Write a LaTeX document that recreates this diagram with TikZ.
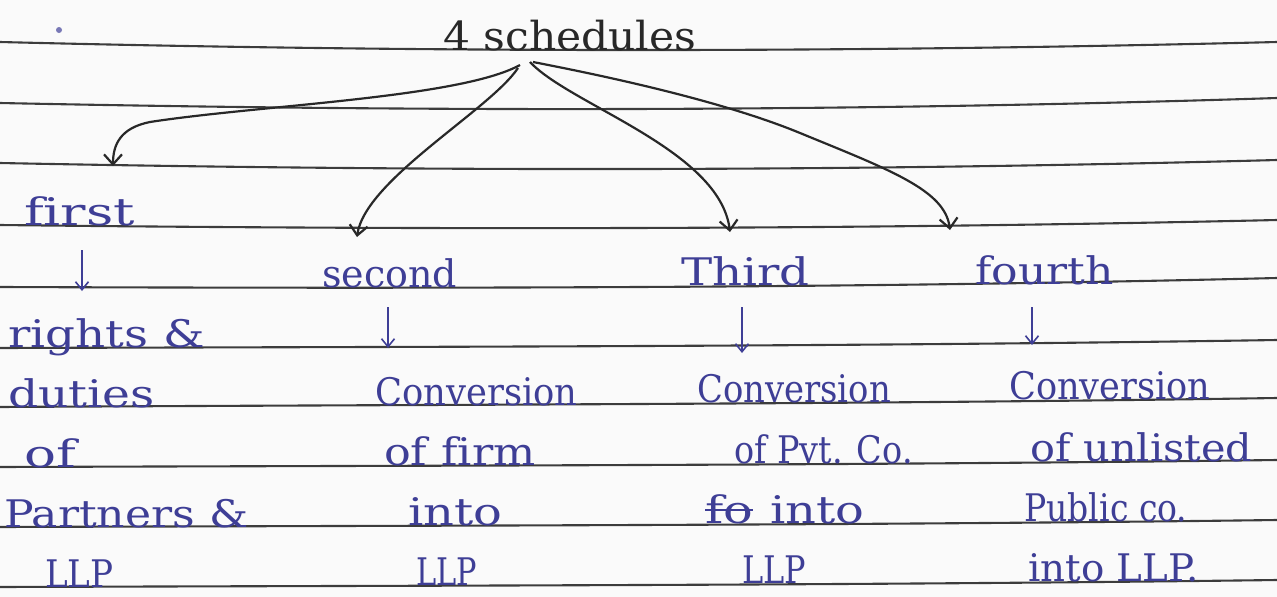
\documentclass[tikz,border=0pt]{standalone}
\usepackage{fontspec}
\setmainfont{DejaVu Serif}[Ligatures=NoCommon]
\usetikzlibrary{arrows.meta}
\definecolor{paper}{RGB}{250,250,250}
\definecolor{rulecol}{RGB}{60,60,60}
\definecolor{pen}{RGB}{62,62,150}
\definecolor{ink}{RGB}{40,40,40}
\newcommand\hw[2]{\scalebox{#1}[1]{#2}}
\begin{document}
\begin{tikzpicture}[x=1pt,y=-1pt,
  txt/.style={anchor=base west, inner sep=0pt, text=pen, font=\fontsize{38}{40}\selectfont},
  ttl/.style={anchor=base west, inner sep=0pt, text=ink, font=\fontsize{40}{42}\selectfont},
  ruling/.style={draw=rulecol, line width=2.1pt},
  curvearr/.style={draw=ink, line width=2.2pt, -{Straight Barb[length=10pt,width=18pt]}},
  downarr/.style={draw=pen, line width=1.6pt, -{Straight Barb[length=8pt,width=13pt]}}]
\useasboundingbox (0,0) rectangle (1277,597);
\fill[paper] (0,0) rectangle (1277,597);
% ruled lines
\foreach \yl/\ym/\yr in {42/52.7/42, 103/111.8/98, 163/171.5/160, 225/229.8/220, 287/288.5/278,
  348/346.7/340, 407/404.5/398, 467/465.5/460, 527/525.5/520, 587/585.5/580}
  \draw[ruling] (0,\yl) .. controls (426,\ym) and (851,\ym) .. (1277,\yr);
% stray pen mark
\fill[pen!70] (59,30) circle (3);
% title
\node[ttl] (title) at (443,50) {\hw{1.06}{4 schedules}};
% column titles
\node[txt] (first) at (24,225) {\hw{1.4}{first}};
\node[txt] (second) at (322,287) {\hw{1.0}{second}};
\node[txt] (third) at (681,285) {\hw{1.23}{Third}};
\node[txt] (fourth) at (975,284) {\hw{1.16}{fourth}};
% column 1
\node[txt] (c1a) at (8,347) {\hw{1.23}{rights \&}};
\node[txt] (c1b) at (8,407) {\hw{1.24}{duties}};
\node[txt] (c1c) at (24,467) {\hw{1.4}{of}};
\node[txt] (c1d) at (4,527) {\hw{1.16}{Partners \&}};
\node[txt] (c1e) at (45,587) {\hw{0.9}{LLP}};
% column 2
\node[txt] (c2a) at (375,405) {\hw{0.93}{Conversion}};
\node[txt] (c2b) at (384,465) {\hw{1.17}{of firm}};
\node[txt] (c2c) at (408,525) {\hw{1.26}{into}};
\node[txt] (c2d) at (416,585) {\hw{0.8}{LLP}};
% column 3
\node[txt] (c3a) at (697,402) {\hw{0.89}{Conversion}};
\node[txt] (c3b) at (734,463) {\hw{0.88}{of Pvt. Co.}};
\node[txt] (c3x) at (705,523) {\hw{1.3}{fo}};
\node[txt] (c3c) at (770,523) {\hw{1.26}{into}};
\draw[pen, line width=1.5pt] (c3x.west |- 0,510) -- (c3x.east |- 0,510);
\node[txt] (c3d) at (742,583) {\hw{0.84}{LLP}};
% column 4
\node[txt] (c4a) at (1009,399) {\hw{0.925}{Conversion}};
\node[txt] (c4b) at (1030,461) {\hw{1.09}{of unlisted}};
\node[txt] (c4c) at (1024,521) {\hw{0.87}{Public co.}};
\node[txt] (c4d) at (1028,581) {\hw{1.02}{into LLP.}};
% curved connectors
\coordinate (o1) at (520,65);  \coordinate (t1) at (113,166);
\coordinate (o2) at (518,68);  \coordinate (t2) at (357,237);
\coordinate (o3) at (530,62);  \coordinate (t3) at (730,232);
\coordinate (o4) at (533,62);  \coordinate (t4) at (950,230);
\draw[curvearr] (o1) .. controls (460,98) and (260,105) .. (150,122) .. controls (120,128) and (113,145) .. (t1);
\draw[curvearr] (o2) .. controls (490,110) and (365,180) .. (t2);
\draw[curvearr] (o3) .. controls (570,105) and (720,150) .. (t3);
\draw[curvearr] (o4) .. controls (600,75) and (720,100) .. (800,133) .. controls (890,170) and (945,190) .. (t4);
% down arrows
\coordinate (d1a) at (82,250);   \coordinate (d1b) at (82,291);
\coordinate (d2a) at (388,307);  \coordinate (d2b) at (388,348);
\coordinate (d3a) at (742,307);  \coordinate (d3b) at (742,353);
\coordinate (d4a) at (1032,307); \coordinate (d4b) at (1032,345);
\draw[downarr] (d1a) -- (d1b);
\draw[downarr] (d2a) -- (d2b);
\draw[downarr] (d3a) -- (d3b);
\draw[downarr] (d4a) -- (d4b);
\end{tikzpicture}
\end{document}
